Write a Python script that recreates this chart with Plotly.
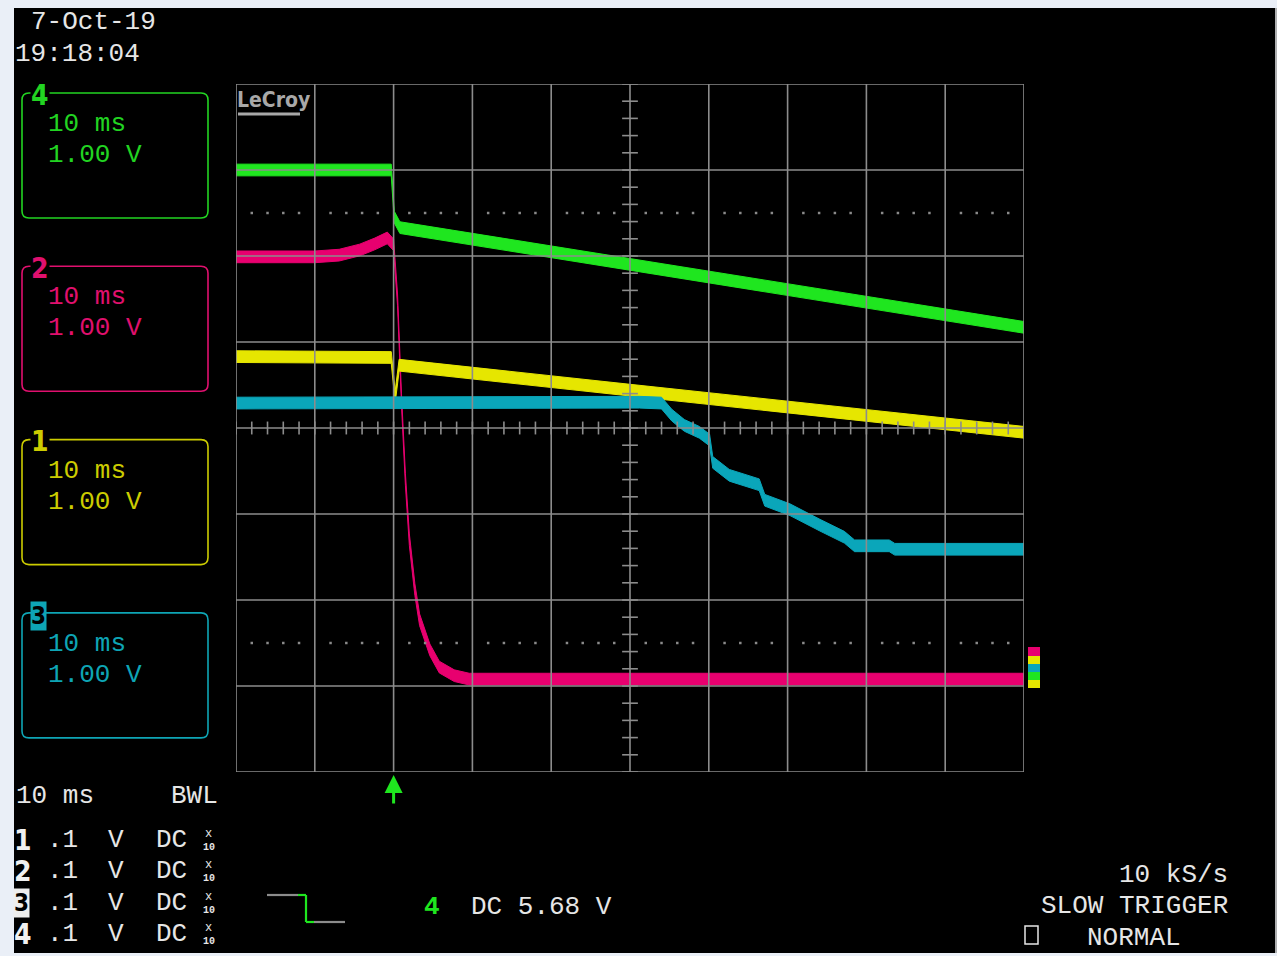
import plotly.graph_objects as go

W, H = 1277, 956

# ---------------- data (time in ms, amplitude in divisions) ----------------
ch4_t = [-20, -0.3, 0.1, 0.8, 80]
ch4_v = [3.00, 3.00, 2.45, 2.33, 1.17]

ch2_t = [-20, -10, -6.9, -4.3, -2.4, -0.8, 0.0, 0.5, 1.0, 1.5, 2.0, 2.7, 3.3, 4.6, 5.8, 7.7, 9.6, 80]
ch2_v = [1.99, 1.99, 2.01, 2.07, 2.14, 2.21, 2.13, 1.49, 0.33, -0.60, -1.30, -1.88, -2.23, -2.58, -2.78, -2.88, -2.92, -2.92]

ch1_t = [-20, -0.3, 0.2, 0.7, 30, 80]
ch1_v = [0.83, 0.82, 0.36, 0.73, 0.44, -0.05]

ch3_t = [-20, 31.2, 34.0, 35.3, 36.9, 38.8, 40.1, 40.5, 42.6, 46.4, 47.1, 50.3, 54.1, 57.2, 58.5, 62.9, 63.6, 80]
ch3_v = [0.29, 0.30, 0.29, 0.15, 0.03, -0.05, -0.14, -0.40, -0.55, -0.66, -0.84, -0.95, -1.13, -1.27, -1.37, -1.37, -1.41, -1.41]

channels = [
    ("4", ch4_t, ch4_v, "#1fe61f", "#22d422"),
    ("2", ch2_t, ch2_v, "#e8006f", "#e0106e"),
    ("1", ch1_t, ch1_v, "#e6e600", "#cccc00"),
    ("3", ch3_t, ch3_v, "#0aa6ba", "#0ea5b5"),
]

x_range = [-20, 80]
y_range = [-4, 4]
trigger_t = 0

# ---------------- geometry helpers ----------------
X0, X1, Y0, Y1 = 236, 1024, 84, 772


def px(x):
    return x / W


def py(y):
    return 1 - y / H


fig = go.Figure()

half = 0.068
for name, t, v, col, _ in channels:
    fig.add_trace(go.Scatter(x=t, y=[a - half for a in v], mode="lines",
                             line=dict(color=col, width=1), showlegend=False, hoverinfo="skip"))
    fig.add_trace(go.Scatter(x=t, y=[a + half for a in v], mode="lines", fill="tonexty",
                             fillcolor=col, line=dict(color=col, width=1),
                             showlegend=False, hoverinfo="skip"))

# dotted lines at +/-2.5 div
dot_x = [x_range[0] + 2 * i for i in range(51) if i % 5 != 0]
for yy in (2.5, -2.5):
    fig.add_trace(go.Scatter(x=dot_x, y=[yy] * len(dot_x), mode="markers",
                             marker=dict(color="#8a8a8a", size=2.5, symbol="square"),
                             showlegend=False, hoverinfo="skip"))

# ground markers
fig.add_trace(go.Scatter(x=[-21.2], y=[2.69], mode="markers", cliponaxis=False,
                         marker=dict(symbol="triangle-right", size=9, color="#1fe61f"),
                         showlegend=False, hoverinfo="skip"))
fig.add_trace(go.Scatter(x=[81.2], y=[2.69], mode="markers", cliponaxis=False,
                         marker=dict(symbol="triangle-left", size=9, color="#1fe61f"),
                         showlegend=False, hoverinfo="skip"))

shapes = []
# black screen
shapes.append(dict(type="rect", xref="paper", yref="paper", x0=px(14), x1=px(1275),
                   y0=py(953), y1=py(8), fillcolor="black", line=dict(width=0), layer="below"))
shapes.append(dict(type="line", xref="paper", yref="paper", x0=px(1276), x1=px(1276),
                   y0=py(953), y1=py(8), line=dict(color="#9a9a9a", width=1.5), layer="below"))

GRID = "#8c8c8c"
# grid (above traces)
for i in range(11):
    xx = x_range[0] + 10 * i
    shapes.append(dict(type="line", xref="x", yref="y", x0=xx, x1=xx, y0=y_range[0], y1=y_range[1],
                       line=dict(color=GRID, width=1.6), layer="above"))
for j in range(9):
    yy = y_range[0] + j
    shapes.append(dict(type="line", xref="x", yref="y", x0=x_range[0], x1=x_range[1], y0=yy, y1=yy,
                       line=dict(color=GRID, width=1.6), layer="above"))
# center axis ticks
for i in range(51):
    xx = x_range[0] + 2 * i
    shapes.append(dict(type="line", xref="x", yref="y", x0=xx, x1=xx, y0=-0.075, y1=0.075,
                       line=dict(color=GRID, width=1.6), layer="above"))
for j in range(41):
    yy = y_range[0] + 0.2 * j
    shapes.append(dict(type="line", xref="x", yref="y", x0=29, x1=31, y0=yy, y1=yy,
                       line=dict(color=GRID, width=1.6), layer="above"))


def rounded_box(x0, y0, x1, y1, r, color):
    a0, a1 = px(x0), px(x1)
    b0, b1 = py(y1), py(y0)
    rx, ry = r / W, r / H
    path = (f"M {a0 + rx},{b1} L {a1 - rx},{b1} Q {a1},{b1} {a1},{b1 - ry} "
            f"L {a1},{b0 + ry} Q {a1},{b0} {a1 - rx},{b0} L {a0 + rx},{b0} "
            f"Q {a0},{b0} {a0},{b0 + ry} L {a0},{b1 - ry} Q {a0},{b1} {a0 + rx},{b1} Z")
    return dict(type="path", xref="paper", yref="paper", path=path,
                line=dict(color=color, width=1.6))


annotations = []
FONT = "Liberation Mono, DejaVu Sans Mono, monospace"
NARROW = "Liberation Sans Narrow, DejaVu Sans Condensed, sans-serif"
WHITE = "#e6e6e6"
FS = 26


def text(x, y, s, color=WHITE, size=FS, anchor="left", bold=False, bg=None, family=FONT):
    d = dict(x=px(x), y=py(y), xref="paper", yref="paper", text=f"<b>{s}</b>" if bold else s,
             showarrow=False, xanchor=anchor, yanchor="middle",
             font=dict(family=family, size=size, color=color), borderpad=0)
    if bg:
        d["bgcolor"] = bg
    annotations.append(d)


text(30, 22, "7-Oct-19")
text(14, 54, "19:18:04")

for k, (name, t, v, col, tcol) in enumerate(channels):
    top = 93 + 173.3 * k
    shapes.append(rounded_box(22, top, 208, top + 125, 7, tcol))
    if name == "3":
        text(30, top + 3, name, color="black", size=24, bold=True, bg=tcol, family=NARROW)
    else:
        text(30, top + 2, name, color=tcol, size=28, bold=True, bg="black", family=NARROW)
    text(47, top + 31, "10 ms", color=tcol)
    text(47, top + 62, "1.00 V", color=tcol)

text(15, 796, "10 ms")
text(170, 796, "BWL")
row_y = [840, 871, 903, 934]
row_names = ["1", "2", "3", "4"]
for yy, nm in zip(row_y, row_names):
    if nm == "3":
        text(13, yy, nm, color="black", size=24, bold=True, bg="#eeeeee", family=NARROW)
    else:
        text(13, yy, nm, color="#f0f0f0", size=28, bold=True, family=NARROW)
    text(46, yy, ".1")
    text(107, yy, "V")
    text(155, yy, "DC")
    text(204, yy - 6, "x", size=12)
    text(202, yy + 7, "10", size=10, bold=True)

# trigger symbol
for (xa, ya, xb, yb, c) in [(267, 895, 298, 895, GRID), (298, 895, 306, 895, "#1fe61f"),
                            (306, 895, 306, 922, "#1fe61f"), (306, 922, 314, 922, "#1fe61f"),
                            (314, 922, 345, 922, GRID)]:
    shapes.append(dict(type="line", xref="paper", yref="paper", x0=px(xa), x1=px(xb),
                       y0=py(ya), y1=py(yb), line=dict(color=c, width=2.2)))

text(423, 907, "4", color="#1fe61f", size=26, bold=True)
text(470, 907, "DC 5.68 V")
text(1229, 875, "10 kS/s", anchor="right")
text(1229, 906, "SLOW TRIGGER", anchor="right")
text(1086, 938, "NORMAL")
shapes.append(dict(type="rect", xref="paper", yref="paper", x0=px(1025), x1=px(1038),
                   y0=py(944), y1=py(926), line=dict(color=WHITE, width=1.5)))

# LeCroy logo
text(236, 100, "LeCroy", color="#a8a8a8", size=21, bold=True, family=NARROW)
shapes.append(dict(type="line", xref="paper", yref="paper", x0=px(238), x1=px(300),
                   y0=py(114), y1=py(114), line=dict(color="#a8a8a8", width=3)))

# right-edge channel marker stack
for (ya, yb, c) in [(647, 656, "#e8006f"), (656, 664, "#e6e600"), (664, 672, "#0aa6ba"),
                    (672, 680, "#1fe61f"), (680, 688, "#e6e600")]:
    shapes.append(dict(type="rect", xref="paper", yref="paper", x0=px(1028), x1=px(1040),
                       y0=py(yb), y1=py(ya), fillcolor=c, line=dict(width=0)))

# trigger arrow
annotations.append(dict(x=trigger_t, y=py(775), xref="x", yref="paper", text="", showarrow=True,
                        ax=0, ay=30, arrowhead=2, arrowsize=1.2, arrowwidth=3, arrowcolor="#1fe61f"))

fig.update_layout(
    width=W, height=H, autosize=False,
    margin=dict(l=0, r=0, t=0, b=0),
    paper_bgcolor="#eaeff7", plot_bgcolor="black",
    shapes=shapes, annotations=annotations, showlegend=False,
    xaxis=dict(domain=[px(X0), px(X1)], range=x_range, showgrid=False, zeroline=False,
               showticklabels=False, ticks="", fixedrange=True),
    yaxis=dict(domain=[py(Y1), py(Y0)], range=y_range, showgrid=False, zeroline=False,
               showticklabels=False, ticks="", fixedrange=True),
)

fig.write_html("out.html", config={"displayModeBar": False},
               post_script="document.body.style.margin='0';document.body.style.overflow='hidden';")
